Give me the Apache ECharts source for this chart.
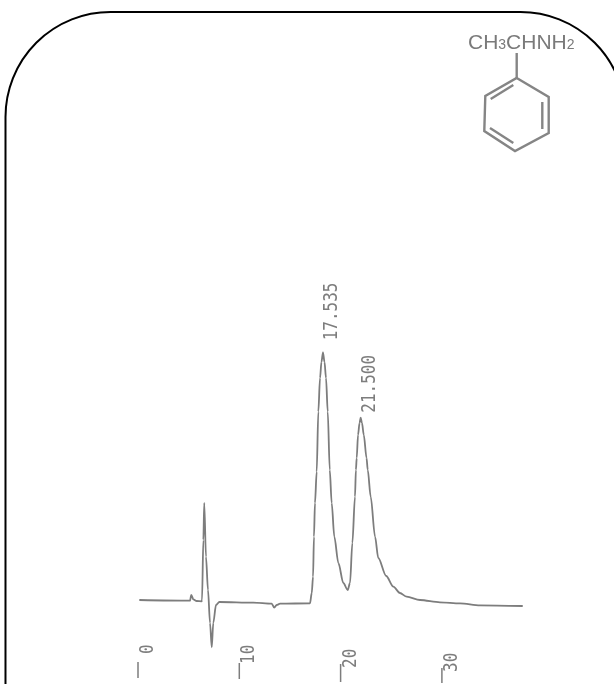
<!DOCTYPE html>
<html><head><meta charset="utf-8">
<style>html,body{margin:0;padding:0;background:#fff}#c{width:614px;height:684px}</style>
<script src="https://cdn.jsdelivr.net/npm/echarts@6/dist/echarts.min.js"></script>
</head><body><div id="c"></div>
<script>
// Chromatogram trace: time (min), detector signal (arbitrary)
const times = [0.13,5.13,5.26,5.46,5.79,6.29,6.32,6.45,6.54,6.71,6.91,7.11,7.28,7.43,7.70,8.03,11.38,13.2,13.45,13.69,14.02,16.98,17.15,17.28,17.37,17.47,17.64,17.80,17.97,18.11,18.26,18.41,18.56,18.73,18.93,19.12,19.38,19.78,20.27,20.70,20.93,21.16,21.42,21.51,21.59,21.72,21.87,21.98,22.11,22.29,22.56,22.68,22.97,23.40,23.72,24.50,25.21,25.86,26.52,27.84,29.81,31.79,33.76,37.98];
const signal = [84,83.3,89,84.7,83,82.7,84,144,181,127.3,94,61,36.7,61,79,82,81.3,80.3,76.3,79,80.3,80.7,91,107.3,147.3,181,212.3,272.3,306,322,331.7,322,306,272.3,214,181,147.3,121,101,94,101,141,187.3,214,226,249,261,266.3,261,249,226,214,187.3,147.3,126,108,97.3,91,87.3,84,81.7,80.7,78.7,78];
const peakTimes = [18.26,21.98];
const peakHeights = [331.7,266.3];
const peakLabels = ['17.535','21.500'];
const peakLabelGaps = [12,5];
const tickValues = [0,10,20,30];
const tickLabels = ['0','10','20','30'];
const tickTops = [22,21,20,16];
const tickBottoms = [6,5,2,1];
const labelBases = [30,20,16,12];

const GREY='#7d7d7d', MONO='"DejaVu Sans Mono", monospace';
const chart=echarts.init(document.getElementById('c'),null,{renderer:'canvas'});
const bond=(pts,close)=>({type:close?'polygon':'polyline',shape:{points:pts},style:{fill:null,stroke:'#858585',lineWidth:2.4,lineJoin:'miter'},z:5});
chart.setOption({
  animation:false,
  backgroundColor:'#fff',
  grid:{left:138,top:300,width:405.2,height:384},
  xAxis:{type:'value',min:0,max:40,show:false},
  yAxis:{type:'value',min:0,max:384,show:false},
  graphic:[
    {type:'rect',shape:{x:5.5,y:12,width:620,height:800,r:105},style:{fill:null,stroke:'#000',lineWidth:2},z:1},
    {type:'text',x:468,y:43,z:5,style:{
      rich:{a:{fontFamily:'"Liberation Sans",Arial',fontSize:21,fill:'#7a7a7a'},
            s:{fontFamily:'"Liberation Sans",Arial',fontSize:14,fill:'#7a7a7a',padding:[5,0,0,0]}},
      text:'{a|CH}{s|3}{a|CHNH}{s|2}',verticalAlign:'middle',align:'left'}},
    bond([[516.7,53],[516.7,78]]),
    bond([[516.7,78],[548.7,97],[548.7,133],[515,151],[484.3,131],[485.3,96]],true),
    bond([[490.7,99],[513.3,85]]),
    bond([[542.3,102],[542.3,129]]),
    bond([[490,128],[513.3,143]])
  ],
  series:[
    {type:'line',data:times.map((t,i)=>[t,signal[i]]),showSymbol:false,smooth:0.3,smoothMonotone:'x',silent:true,
     lineStyle:{color:GREY,width:1.8,join:'round'},z:3},
    {type:'custom',coordinateSystem:'cartesian2d',data:tickValues.map((v,i)=>[v,tickTops[i],tickBottoms[i],labelBases[i],i]),silent:true,
     renderItem:(p,api)=>{
       const a=api.coord([api.value(0),api.value(1)]),b=api.coord([api.value(0),api.value(2)]),l=api.coord([api.value(0),api.value(3)]);
       return {type:'group',children:[
         {type:'line',shape:{x1:a[0],y1:a[1],x2:b[0],y2:b[1]},style:{stroke:GREY,lineWidth:1.5}},
         {type:'text',x:l[0]+10,y:l[1],rotation:Math.PI/2,scaleY:1.2,
          style:{text:tickLabels[api.value(4)],font:'16px '+MONO,fill:GREY,align:'left',verticalAlign:'middle'}}
       ]};
     }},
    {type:'custom',coordinateSystem:'cartesian2d',data:peakTimes.map((t,i)=>[t,peakHeights[i],i]),silent:true,
     renderItem:(p,api)=>{
       const c=api.coord([api.value(0),api.value(1)]);
       const i=api.value(2);
       return {type:'text',x:c[0]+9,y:c[1]-peakLabelGaps[i],rotation:Math.PI/2,scaleY:1.2,
         style:{text:peakLabels[i],font:'16px '+MONO,fill:GREY,align:'left',verticalAlign:'middle'}};
     }}
  ]
});
</script></body></html>
